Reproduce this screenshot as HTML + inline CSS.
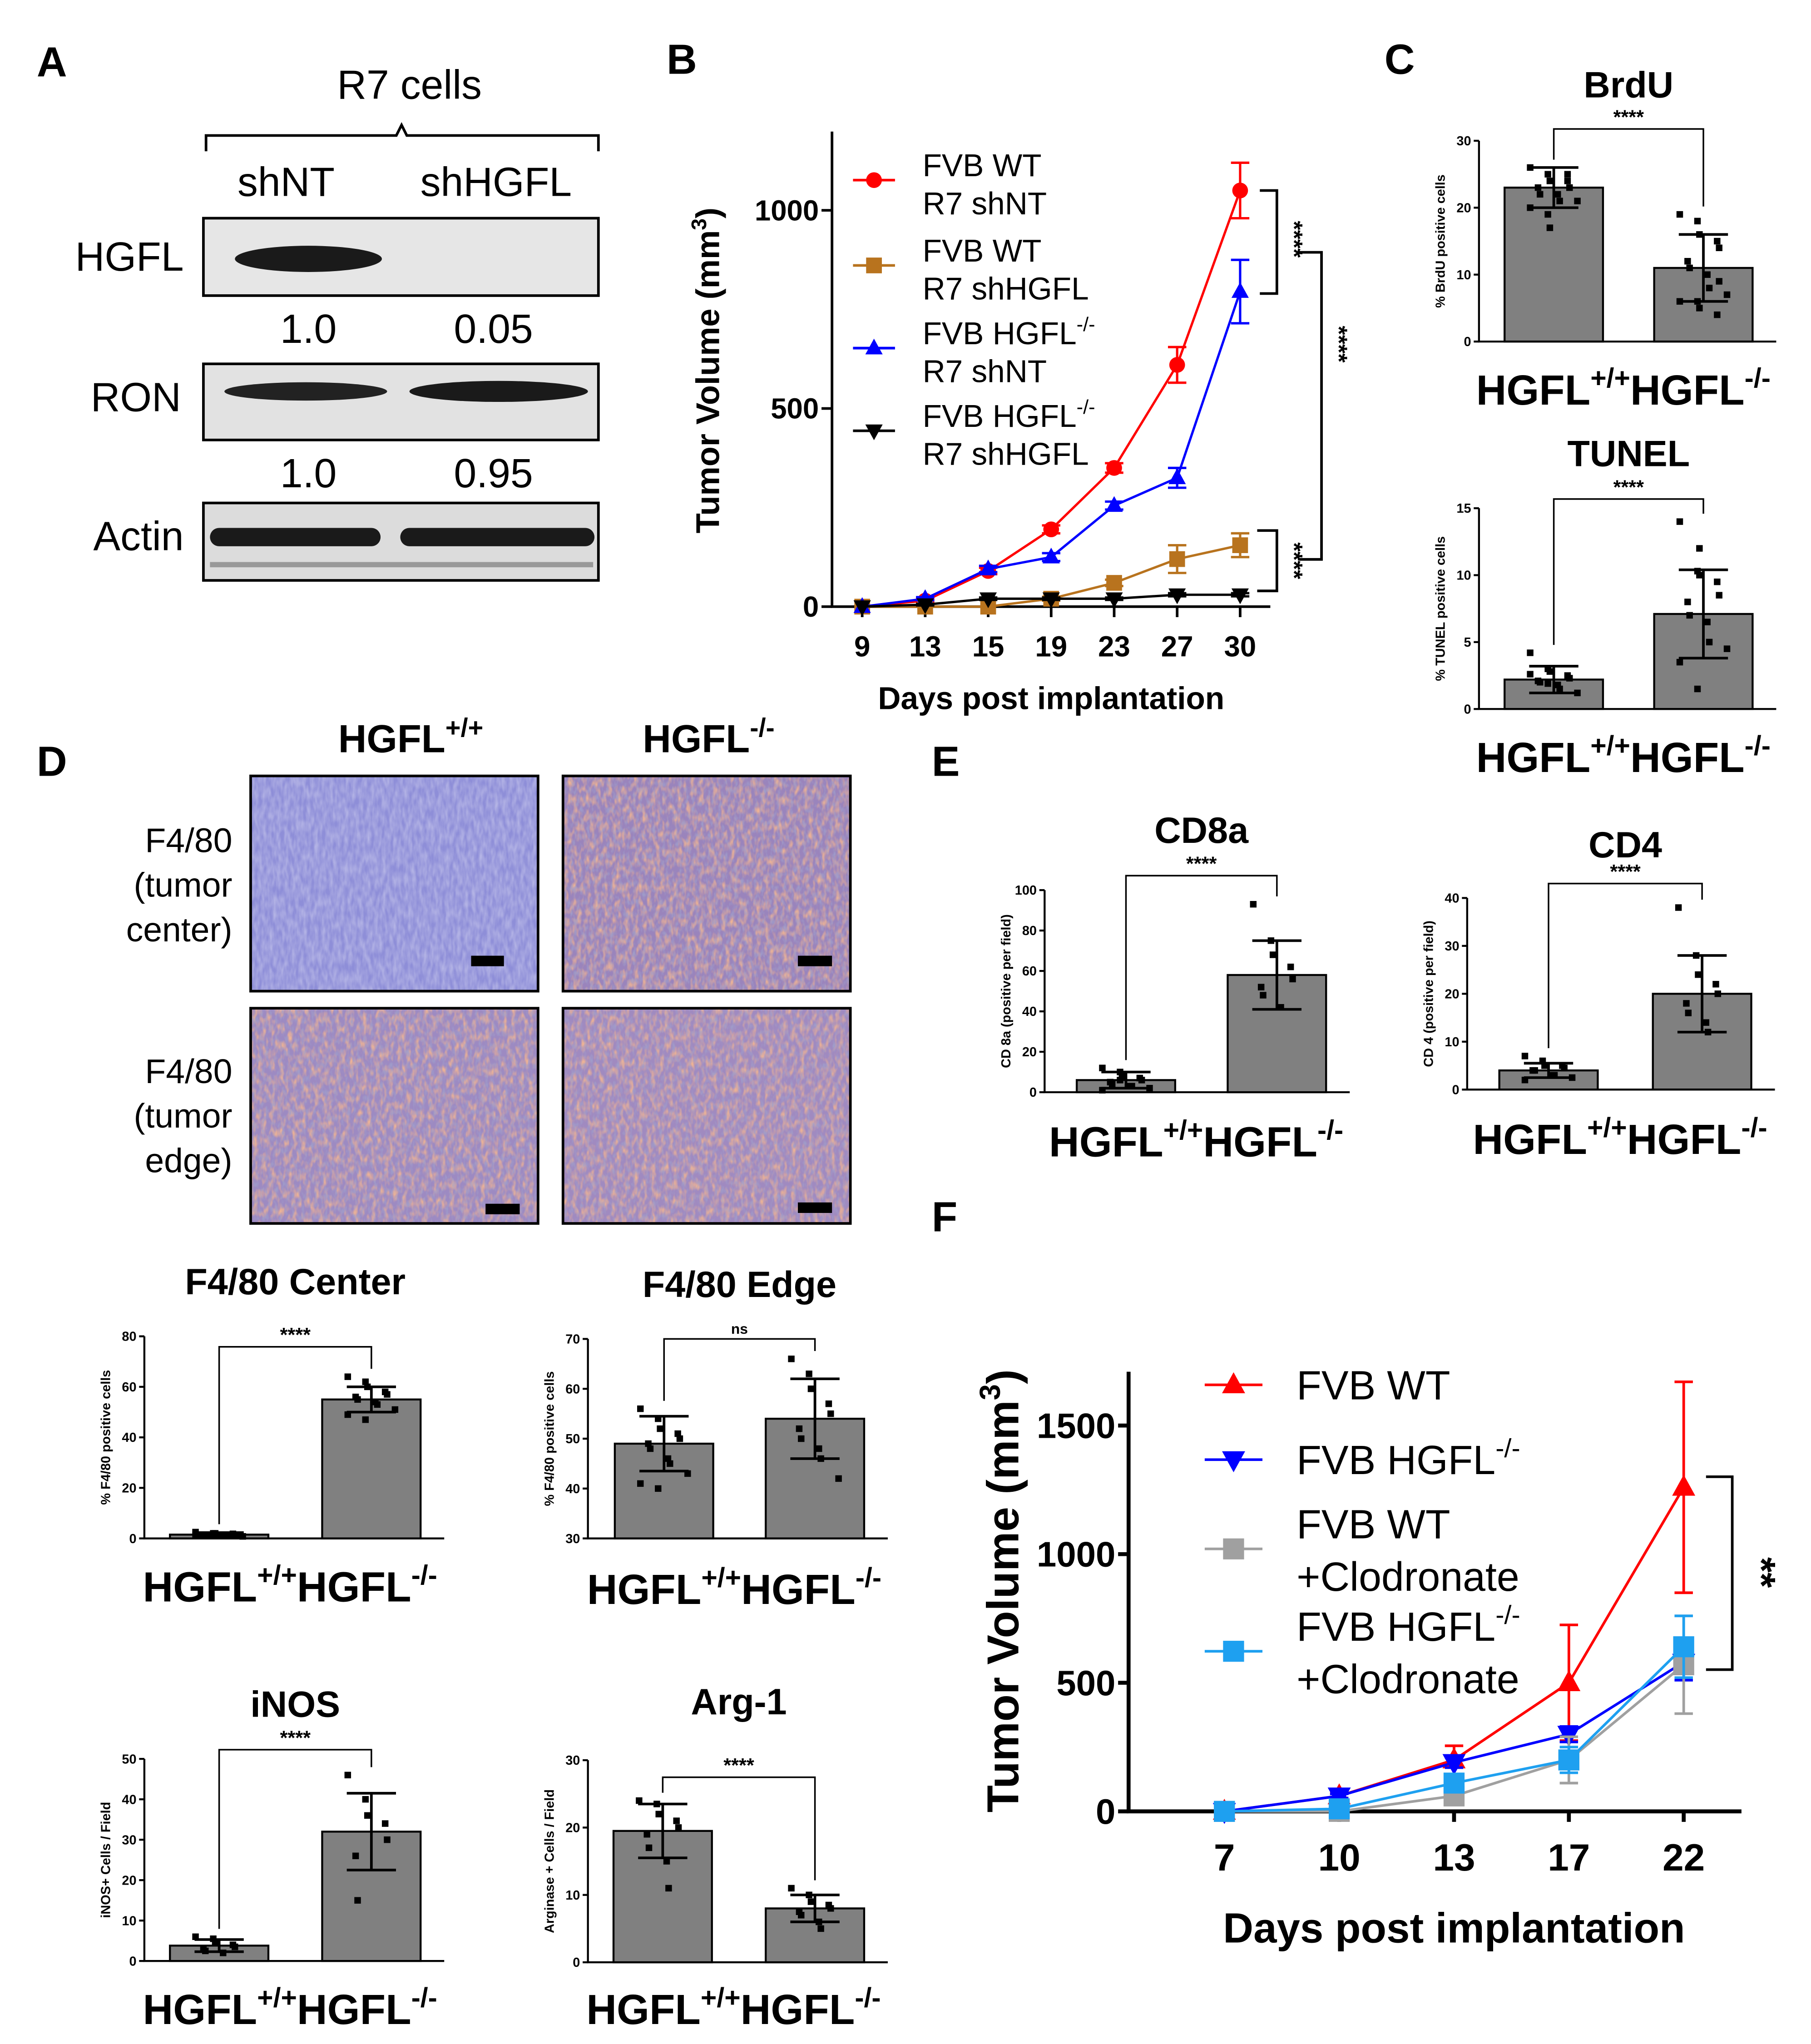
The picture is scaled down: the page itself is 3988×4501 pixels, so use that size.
<!DOCTYPE html>
<html><head><meta charset="utf-8"><style>
html,body{margin:0;padding:0;background:#fff}
svg{display:block}
text{font-family:"Liberation Sans",sans-serif}
.b{font-weight:bold}
</style></head><body>
<svg id="fig" width="3988" height="4501" viewBox="0 0 1380 1557" xmlns="http://www.w3.org/2000/svg">
<defs>
<filter id="tex1" x="0" y="0" width="1" height="1"><feTurbulence type="fractalNoise" baseFrequency="0.35 0.12" numOctaves="2" seed="3"/><feColorMatrix type="matrix" values="0 0 0 0 1  0 0 0 0 1  0 0 0 0 1  0 0 0 -1.2 0.9"/><feComposite in2="SourceGraphic" operator="in"/></filter>
<filter id="tex2" x="0" y="0" width="1" height="1"><feTurbulence type="fractalNoise" baseFrequency="0.3 0.15" numOctaves="2" seed="7"/><feColorMatrix type="matrix" values="0 0 0 0 0.85  0 0 0 0 0.45  0 0 0 0 0.3  0 0 0 2.2 -0.9"/><feComposite in2="SourceGraphic" operator="in"/></filter>
<filter id="tex3" x="0" y="0" width="1" height="1"><feTurbulence type="fractalNoise" baseFrequency="0.4 0.2" numOctaves="2" seed="11"/><feColorMatrix type="matrix" values="0 0 0 0 0.35  0 0 0 0 0.35  0 0 0 0 0.6  0 0 0 2 -0.9"/><feComposite in2="SourceGraphic" operator="in"/></filter>
</defs>

<!-- Panel A -->
<g>
<text x="28" y="58" font-size="32" class="b">A</text>
<text x="312" y="75" font-size="31" text-anchor="middle">R7 cells</text>
<path d="M157,115 V103 H302 L306,95 L310,103 H456 V115" fill="none" stroke="#000" stroke-width="2"/>
<text x="218" y="149" font-size="31" text-anchor="middle">shNT</text>
<text x="378" y="149" font-size="31" text-anchor="middle">shHGFL</text>
<rect x="155" y="166" width="301" height="59" fill="#e6e6e6" stroke="#000" stroke-width="2"/>
<ellipse cx="235" cy="197" rx="56" ry="10" fill="#1a1a1a"/>
<rect x="155" y="277" width="301" height="58" fill="#e2e2e2" stroke="#000" stroke-width="2"/>
<ellipse cx="233" cy="298" rx="62" ry="7" fill="#222"/>
<ellipse cx="380" cy="298" rx="68" ry="8" fill="#1a1a1a"/>
<rect x="155" y="383" width="301" height="59" fill="#dcdcdc" stroke="#000" stroke-width="2"/>
<rect x="160" y="402" width="130" height="14" rx="7" fill="#1a1a1a"/>
<rect x="305" y="402" width="148" height="14" rx="7" fill="#1a1a1a"/>
<rect x="160" y="428" width="292" height="4" fill="#999"/>
<text x="140" y="206" font-size="31" text-anchor="end">HGFL</text>
<text x="138" y="313" font-size="31" text-anchor="end">RON</text>
<text x="140" y="419" font-size="31" text-anchor="end">Actin</text>
<text x="235" y="261" font-size="31" text-anchor="middle">1.0</text>
<text x="376" y="261" font-size="31" text-anchor="middle">0.05</text>
<text x="235" y="371" font-size="31" text-anchor="middle">1.0</text>
<text x="376" y="371" font-size="31" text-anchor="middle">0.95</text>
</g>

<text x="508" y="56" font-size="32" class="b">B</text>
<text x="1055" y="56" font-size="32" class="b">C</text>
<text x="28" y="591" font-size="32" class="b">D</text>
<text x="710" y="591" font-size="32" class="b">E</text>
<text x="710" y="938" font-size="32" class="b">F</text>

<!-- Panel D images -->
<g>
<text x="313" y="573" font-size="30" class="b" text-anchor="middle">HGFL<tspan font-size="20" dy="-12">+/+</tspan></text>
<text x="540" y="573" font-size="30" class="b" text-anchor="middle">HGFL<tspan font-size="20" dy="-12">-/-</tspan></text>
<g font-size="26" text-anchor="end">
<text x="177" y="649">F4/80</text>
<text x="177" y="683">(tumor</text>
<text x="177" y="717">center)</text>
<text x="177" y="825">F4/80</text>
<text x="177" y="859">(tumor</text>
<text x="177" y="893">edge)</text>
</g>
<g>
<rect x="191" y="591" width="219" height="164" fill="#8e8ed8"/>
<rect x="191" y="591" width="219" height="164" fill="#8e8ed8" filter="url(#tex1)" opacity="0.45"/>
<rect x="191" y="591" width="219" height="164" fill="none" stroke="#000" stroke-width="2"/>
<rect x="359" y="728" width="25" height="8" fill="#000"/>
</g>
<g>
<rect x="429" y="591" width="219" height="164" fill="#9a84bc"/>
<rect x="429" y="591" width="219" height="164" fill="#fff" filter="url(#tex2)"/>
<rect x="429" y="591" width="219" height="164" fill="#fff" filter="url(#tex3)"/>
<rect x="429" y="591" width="219" height="164" fill="none" stroke="#000" stroke-width="2"/>
<rect x="608" y="728" width="26" height="8" fill="#000"/>
</g>
<g>
<rect x="191" y="768" width="219" height="164" fill="#9d8ac2"/>
<rect x="191" y="768" width="219" height="164" fill="#fff" filter="url(#tex2)"/>
<rect x="191" y="768" width="219" height="164" fill="#fff" filter="url(#tex3)"/>
<rect x="191" y="768" width="219" height="164" fill="none" stroke="#000" stroke-width="2"/>
<rect x="370" y="917" width="26" height="8" fill="#000"/>
</g>
<g>
<rect x="429" y="768" width="219" height="164" fill="#a08ac0"/>
<rect x="429" y="768" width="219" height="164" fill="#fff" filter="url(#tex2)"/>
<rect x="429" y="768" width="219" height="164" fill="#fff" filter="url(#tex3)"/>
<rect x="429" y="768" width="219" height="164" fill="none" stroke="#000" stroke-width="2"/>
<rect x="608" y="916" width="26" height="8" fill="#000"/>
</g>
</g>
<g id="charts"></g>
</svg>
<script>
// ===== Panel B data =====
const bDays = ['9','13','15','19','23','27','30'];
const bYTicks = [0,500,1000];
const bWtShNT = [0,15,90,195,350,610,1050];
const bWtShNTErr = [0,5,8,10,12,45,70];
const bWtShH = [0,0,0,20,60,120,155];
const bWtShHErr = [0,0,0,5,8,35,30];
const bKoShNT = [0,20,95,125,255,325,795];
const bKoShNTErr = [0,4,8,10,10,25,80];
const bKoShH = [0,5,20,20,20,30,30];
const bKoShHErr = [0,2,3,3,3,4,4];
// ===== Panel F data =====
const fDays = ['7','10','13','17','22'];
const fYTicks = [0,500,1000,1500];
const fWt = [0,60,200,500,1260];
const fWtErr = [0,10,55,225,410];
const fKo = [0,60,190,300,580];
const fKoErr = [0,8,20,30,70];
const fWtClod = [0,0,60,200,570];
const fWtClodErr = [0,0,15,90,190];
const fKoClod = [0,10,110,200,640];
const fKoClodErr = [0,5,20,50,120];
// ===== Bar chart data =====
const brduMeans = [23,11]; const brduSD = [3,5];
const brduWtPts = [26,25,24,24,23,23,22,22,21,21,20,19,17,25,23];
const brduKoPts = [19,18,16,15,14,12,11,10,8,7,6,6,5,4,9];
const tunelMeans = [2.2,7.1]; const tunelSD = [1,3.3];
const tunelWtPts = [4.2,3,2.8,2.5,2.3,2.1,2,1.8,1.5,1.2,2.6,1.9];
const tunelKoPts = [14,10.3,10,9.5,8.5,8,7,6.5,5,4.5,3.5,1.5,12];
const f480cMeans = [1.5,55]; const f480cSD = [0.8,5];
const f480cWtPts = [2.5,2,2,1.8,1.5,1.5,1.2,1,1,0.8,1.3];
const f480cKoPts = [64,62,60,58,57,56,55,54,53,51,49,47];
const f480eMeans = [49,54]; const f480eSD = [5.5,8];
const f480eWtPts = [56,54,52,51,50,49,48,46,45,43,41,40];
const f480eKoPts = [66,63,60,57,55,52,50,48,46,42];
const inosMeans = [3.8,32]; const inosSD = [1.5,9.5];
const inosWtPts = [6,5.5,4.5,4,3.5,3,2.5,2];
const inosKoPts = [46,40,36,34,30,26,15];
const argMeans = [19.5,8]; const argSD = [4,2];
const argWtPts = [24,23.5,22,21,20,19,17,15,11];
const argKoPts = [11,10,9,8.5,8,7.5,7,6,5];
const cd8Means = [6,58]; const cd8SD = [4,17];
const cd8WtPts = [12,10,8,7,6,5,4,3,3,2,1,6];
const cd8KoPts = [93,75,68,62,56,52,48,42];
const cd4Means = [4,20]; const cd4SD = [1.5,8];
const cd4WtPts = [7,6,5,5,4.5,4,4,3,3,2.5,2];
const cd4KoPts = [38,28,24,22,20,18,16,14,12];

const NS='http://www.w3.org/2000/svg';
const root=document.getElementById('charts');
function mk(tag,attrs,parent){const e=document.createElementNS(NS,tag);for(const k in attrs)e.setAttribute(k,attrs[k]);(parent||root).appendChild(e);return e;}
function txt(x,y,s,size,opts,parent){const e=mk('text',Object.assign({x:x,y:y,'font-size':size},opts||{}),parent);e.textContent=s;return e;}

function marker(g,shape,x,y,r,color){
  let e;
  if(shape==='circle') e=mk('circle',{cx:x,cy:y,r:r,fill:color},g);
  else if(shape==='square') e=mk('rect',{x:x-r,y:y-r,width:2*r,height:2*r,fill:color},g);
  else if(shape==='tri') e=mk('path',{d:`M${x},${y-r*1.2} L${x+r*1.1},${y+r*0.8} L${x-r*1.1},${y+r*0.8}Z`,fill:color},g);
  else e=mk('path',{d:`M${x},${y+r*1.2} L${x+r*1.1},${y-r*0.8} L${x-r*1.1},${y-r*0.8}Z`,fill:color},g);
  return e;
}

function lineChart(name,cfg,cats,ticks,series){
  const g=mk('g',{});
  
  
  const xS=i=>cfg.x0+cfg.dx*i;
  const yS=v=>cfg.y0-v*cfg.k;
  const ax=mk('path',{d:`M${cfg.x0-cfg.xpad},${cfg.ytop} V${cfg.y0} H${cfg.xend}`,fill:'none',stroke:'#000','stroke-width':cfg.sw},g);
  
  
  ticks.forEach(t=>{
    const tk=mk('line',{x1:cfg.x0-cfg.xpad-8,x2:cfg.x0-cfg.xpad,y1:yS(t),y2:yS(t),stroke:'#000','stroke-width':cfg.sw},g);
    
    
    const lb=txt(cfg.x0-cfg.xpad-10,yS(t)+cfg.ytfs*0.35,String(t),cfg.ytfs,{'text-anchor':'end','font-weight':'bold'},g);
    
    
  });
  cats.forEach((c,i)=>{
    const tk=mk('line',{x1:xS(i),x2:xS(i),y1:cfg.y0,y2:cfg.y0+8,stroke:'#000','stroke-width':cfg.sw},g);
    
    
    const lb=txt(xS(i),cfg.y0+cfg.tfs+16,c,cfg.tfs,{'text-anchor':'middle','font-weight':'bold'},g);
    
    
  });
  series.forEach(s=>{
    const sg=mk('g',{},g);
    
    
    const pts=s.vals.map((v,i)=>`${xS(i)},${yS(v)}`).join(' ');
    const pl=mk('polyline',{points:pts,fill:'none',stroke:s.color,'stroke-width':cfg.lw},sg);
    
    
    s.vals.forEach((v,i)=>{
      const e=s.err[i];
      if(e>0){
        const eb=mk('path',{d:`M${xS(i)},${yS(v-e)} V${yS(v+e)} M${xS(i)-7},${yS(v+e)} H${xS(i)+7} M${xS(i)-7},${yS(v-e)} H${xS(i)+7}`,stroke:s.color,'stroke-width':cfg.lw,fill:'none'},sg);
        
        
      }
      const m=marker(sg,s.shape,xS(i),yS(v),cfg.mr,s.color);
      
      
    });
  });
  return {g,xS,yS};
}

// Panel B
const B=lineChart('tumor-growth-chart-b',{x0:657,dx:48,y0:462,k:0.302,ytop:100,xend:968,xpad:23,sw:2,tfs:22,ytfs:22,lw:1.8,mr:6},bDays,bYTicks,[
 {name:'fvb-wt-shnt',vals:bWtShNT,err:bWtShNTErr,color:'#ff0000',shape:'circle'},
 {name:'fvb-wt-shhgfl',vals:bWtShH,err:bWtShHErr,color:'#b8731e',shape:'square'},
 {name:'fvb-ko-shnt',vals:bKoShNT,err:bKoShNTErr,color:'#0000ff',shape:'tri'},
 {name:'fvb-ko-shhgfl',vals:bKoShH,err:bKoShHErr,color:'#000000',shape:'inv'}]);
let t=txt(801,540,'Days post implantation',24,{'text-anchor':'middle','font-weight':'bold'});


t=txt(0,0,'',25,{'text-anchor':'middle','font-weight':'bold',transform:'translate(548,282) rotate(-90)'});
t.innerHTML='Tumor Volume (mm<tspan font-size="16" dy="-10">3</tspan><tspan dy="10">)</tspan>';


[['#ff0000','circle',137,'FVB WT','','R7 shNT'],['#b8731e','square',202,'FVB WT','','R7 shHGFL'],['#0000ff','tri',265,'FVB HGFL','-/-','R7 shNT'],['#000','inv',328,'FVB HGFL','-/-','R7 shHGFL']].forEach(l=>{
  const lg=mk('g',{});
  
  
  mk('line',{x1:650,x2:682,y1:l[2],y2:l[2],stroke:l[0],'stroke-width':2},lg);
  marker(lg,l[1],666,l[2],6,l[0]);
  const a=txt(703,l[2]-3,l[3],24,{},lg); if(l[4]){const ts=mk('tspan',{'font-size':15,dy:-10},a);ts.textContent=l[4];}
  txt(703,l[2]+26,l[5],24,{},lg);
});
function sigBracket(name,x1,x2,y1,y2,label,lx,ly,fs){
  const g=mk('g',{});
  
  
  mk('path',{d:`M${x1},${y1} H${x2} V${y2} H${x1}`,fill:'none',stroke:'#000','stroke-width':2},g);
  txt(0,0,label,fs,{'text-anchor':'middle','font-weight':'bold',transform:`translate(${lx},${ly}) rotate(90)`},g);
}
sigBracket('significance-wt-vs-ko-shnt',960,973,B.yS(1050),B.yS(790),'****',980,182,18);
sigBracket('significance-shnt-vs-shhgfl',990,1007,192,426,'****',1014,262,18);
sigBracket('significance-shhgfl-pair',958,973,404,450,'****',980,427,18);

// Panel F
const F=lineChart('tumor-growth-chart-f',{x0:933,dx:87.5,y0:1380,k:0.196,ytop:1045,xend:1327,xpad:73,sw:3,tfs:29,ytfs:27,lw:2,mr:8},fDays,fYTicks,[
 {name:'fvb-wt',vals:fWt,err:fWtErr,color:'#ff0000',shape:'tri'},
 {name:'fvb-ko',vals:fKo,err:fKoErr,color:'#0000ff',shape:'inv'},
 {name:'fvb-wt-clodronate',vals:fWtClod,err:fWtClodErr,color:'#a0a0a0',shape:'square'},
 {name:'fvb-ko-clodronate',vals:fKoClod,err:fKoClodErr,color:'#1ea0f0',shape:'square'}]);
t=txt(1108,1480,'Days post implantation',32,{'text-anchor':'middle','font-weight':'bold'});


t=txt(0,0,'',34,{'text-anchor':'middle','font-weight':'bold',transform:'translate(776,1212) rotate(-90)'});
t.innerHTML='Tumor Volume (mm<tspan font-size="22" dy="-14">3</tspan><tspan dy="14">)</tspan>';


[['#ff0000','tri',1055,'FVB WT','',''],['#0000ff','inv',1112,'FVB HGFL','-/-',''],['#a0a0a0','square',1180,'FVB WT','','+Clodronate'],['#1ea0f0','square',1258,'FVB HGFL','-/-','+Clodronate']].forEach(l=>{
  const lg=mk('g',{});
  
  
  mk('line',{x1:918,x2:962,y1:l[2],y2:l[2],stroke:l[0],'stroke-width':2},lg);
  marker(lg,l[1],940,l[2],8,l[0]);
  const y1=l[5]?l[2]-8:l[2]+11;
  const a=txt(988,y1,l[3],31,{},lg); if(l[4]){const ts=mk('tspan',{'font-size':20,dy:-13},a);ts.textContent=l[4];}
  if(l[5]) txt(988,l[2]+32,l[5],31,{},lg);
});
sigBracket('significance-f',1300,1320,1125,1272,'**',1332,1198,30);

function barChart(name,cfg,means,sds,ptsA,ptsB){
  const g=mk('g',{});
  
  
  const yS=v=>cfg.y0-(v-cfg.ymin)/(cfg.ymax-cfg.ymin)*(cfg.y0-cfg.ytop);
  const xs=[cfg.xa,cfg.xb];
  const tt=txt((cfg.xa+cfg.xb)/2+ (cfg.toff||0),cfg.ttop,cfg.title,cfg.tsize||28,{'text-anchor':'middle','font-weight':'bold'},g);
  
  
  means.forEach((m,i)=>{
    const r=mk('rect',{x:xs[i]-cfg.bw/2,y:yS(m),width:cfg.bw,height:yS(cfg.ymin)-yS(m),fill:'#808080',stroke:'#000','stroke-width':1.5},g);
    
    
  });
  [ptsA,ptsB].forEach((pts,i)=>{
    pts.forEach((p,j)=>{
      const off=((j%5)-2)*cfg.bw*0.1+(j%2?3:-3);
      const d=mk('rect',{x:xs[i]+off-2.5,y:yS(p)-2.5,width:5,height:5,fill:'#000'},g);
      
      
    });
    const m=means[i],s=sds[i],w=cfg.bw*0.25;
    const eb=mk('path',{d:`M${xs[i]},${yS(Math.max(cfg.ymin,m-s))} V${yS(m+s)} M${xs[i]-w},${yS(m+s)} H${xs[i]+w} M${xs[i]-w},${yS(Math.max(cfg.ymin,m-s))} H${xs[i]+w}`,fill:'none',stroke:'#000','stroke-width':2},g);
    
    
  });
  const ax=mk('path',{d:`M${cfg.yx},${cfg.ytop} V${cfg.y0} H${cfg.xb+cfg.bw/2+18}`,fill:'none',stroke:'#000','stroke-width':1.5},g);
  
  
  cfg.ticks.forEach(v=>{
    const tk=mk('line',{x1:cfg.yx-4,x2:cfg.yx,y1:yS(v),y2:yS(v),stroke:'#000','stroke-width':1.5},g);
    
    
    const lb=txt(cfg.yx-6,yS(v)+3.5,String(v),10,{'text-anchor':'end','font-weight':'bold'},g);
    
    
  });
  const yt=txt(0,0,cfg.ytitle,10,{'text-anchor':'middle','font-weight':'bold',transform:`translate(${cfg.yx-26},${(cfg.ytop+cfg.y0)/2}) rotate(-90)`},g);
  
  
  const by=cfg.bry;
  const br=mk('path',{d:`M${cfg.xa},${yS(cfg.brA)-6} V${by} H${cfg.xb} V${yS(cfg.brB)-6}`,fill:'none',stroke:'#000','stroke-width':1.2},g);
  
  
  const st=txt((cfg.xa+cfg.xb)/2,by-4,cfg.sig,cfg.sig==='ns'?11:15,{'text-anchor':'middle','font-weight':'bold'},g);
  
  
  const xl=txt((cfg.xa+cfg.xb)/2-4,cfg.xly,'',32,{'text-anchor':'middle','font-weight':'bold'},g);
  xl.innerHTML='HGFL<tspan font-size="21" dy="-13">+/+</tspan><tspan dy="13">HGFL</tspan><tspan font-size="21" dy="-13">-/-</tspan>';
  
  
}
barChart('brdu-chart',{xa:1184,xb:1298,bw:75,yx:1127,ytop:107,y0:260,ymin:0,ymax:30,ticks:[0,10,20,30],title:'BrdU',ttop:74,ytitle:'% BrdU positive cells',bry:98,brA:26,brB:19,sig:'****',xly:308},brduMeans,brduSD,brduWtPts,brduKoPts);
barChart('tunel-chart',{xa:1184,xb:1298,bw:75,yx:1127,ytop:387,y0:540,ymin:0,ymax:15,ticks:[0,5,10,15],title:'TUNEL',ttop:355,ytitle:'% TUNEL positive cells',bry:380,brA:4.2,brB:14,sig:'****',xly:588},tunelMeans,tunelSD,tunelWtPts,tunelKoPts);
barChart('f480-center-chart',{xa:167,xb:283,bw:75,yx:110,ytop:1018,y0:1172,ymin:0,ymax:80,ticks:[0,20,40,60,80],title:'F4/80 Center',ttop:986,ytitle:'% F4/80 positive cells',bry:1026,brA:2.5,brB:64,sig:'****',xly:1220},f480cMeans,f480cSD,f480cWtPts,f480cKoPts);
barChart('f480-edge-chart',{xa:506,xb:621,bw:75,yx:448,ytop:1020,y0:1172,ymin:30,ymax:70,ticks:[30,40,50,60,70],title:'F4/80 Edge',ttop:988,ytitle:'% F4/80 positive cells',bry:1020,brA:56,brB:66,sig:'ns',xly:1222},f480eMeans,f480eSD,f480eWtPts,f480eKoPts);
barChart('inos-chart',{xa:167,xb:283,bw:75,yx:110,ytop:1340,y0:1494,ymin:0,ymax:50,ticks:[0,10,20,30,40,50],title:'iNOS',ttop:1308,ytitle:'iNOS+ Cells / Field',bry:1333,brA:6,brB:46,sig:'****',xly:1542},inosMeans,inosSD,inosWtPts,inosKoPts);
barChart('arg1-chart',{xa:505,xb:621,bw:75,yx:448,ytop:1341,y0:1495,ymin:0,ymax:30,ticks:[0,10,20,30],title:'Arg-1',ttop:1306,ytitle:'Arginase + Cells / Field',bry:1354,brA:24,brB:11,sig:'****',xly:1542},argMeans,argSD,argWtPts,argKoPts);
barChart('cd8a-chart',{xa:858,xb:973,bw:75,yx:796,ytop:678,y0:832,ymin:0,ymax:100,ticks:[0,20,40,60,80,100],title:'CD8a',ttop:642,ytitle:'CD 8a (positive per field)',bry:667,brA:12,brB:93,sig:'****',xly:881},cd8Means,cd8SD,cd8WtPts,cd8KoPts);
barChart('cd4-chart',{xa:1180,xb:1297,bw:75,yx:1118,ytop:684,y0:830,ymin:0,ymax:40,ticks:[0,10,20,30,40],title:'CD4',ttop:653,ytitle:'CD 4 (positive per field)',bry:673,brA:7,brB:38,sig:'****',xly:879},cd4Means,cd4SD,cd4WtPts,cd4KoPts);
</script>
</body></html>
